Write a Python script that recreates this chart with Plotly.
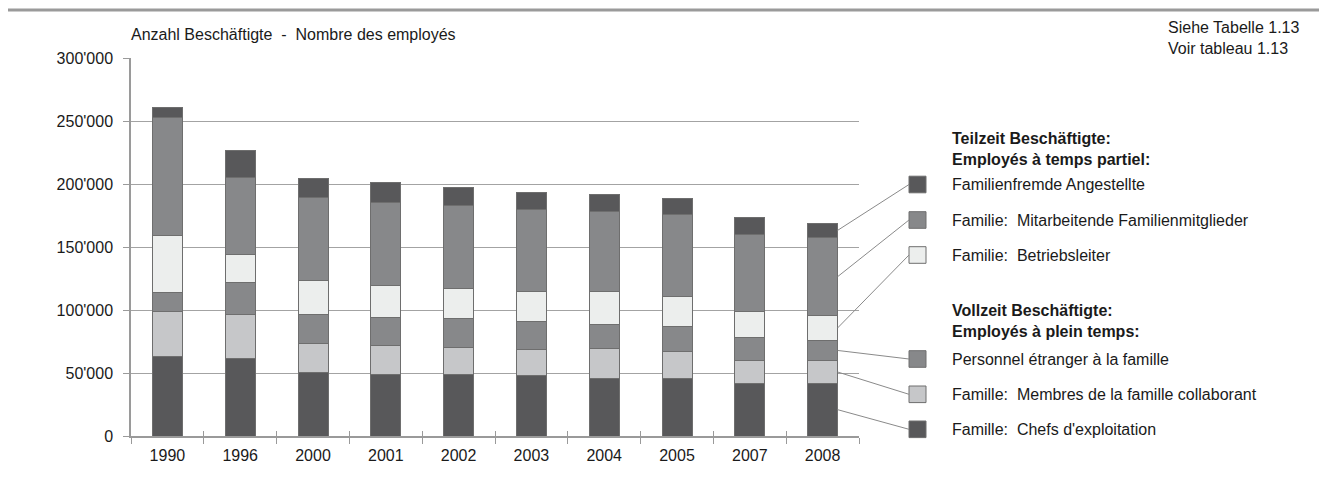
import plotly.graph_objects as go

years = ["1990", "1996", "2000", "2001", "2002", "2003", "2004", "2005", "2007", "2008"]

# Full-time (bottom of stack)
chefs = [63000, 61700, 50200, 49200, 49200, 47900, 45500, 45500, 41800, 41800]
membres = [36200, 35100, 23100, 22800, 21400, 20900, 24100, 21700, 18000, 18000]
personnel = [14800, 25400, 23500, 22200, 22300, 21900, 18500, 19500, 18500, 16200]
# Part-time (top of stack)
betriebsleiter = [45000, 22200, 26500, 25600, 24300, 24100, 26700, 24400, 20400, 19500]
mitarbeitende = [93600, 60600, 65800, 65400, 65600, 64600, 63200, 64500, 61100, 61900]
familienfremde = [8300, 21400, 15400, 15800, 14600, 14000, 13300, 13000, 14000, 11600]

y_tickvals = [0, 50000, 100000, 150000, 200000, 250000, 300000]
y_ticktext = ["0", "50'000", "100'000", "150'000", "200'000", "250'000", "300'000"]

DARK = "#58585a"
MID = "#87888a"
LIGHT = "#c6c7c9"
WHITE = "#eceeed"
EDGE = "#6e6e6e"
FONT = "Liberation Sans, Arial, sans-serif"
TXT = "#1a1a1a"
FS = 16

series = [
    ("Famille: Chefs d'exploitation", chefs, DARK),
    ("Famille: Membres de la famille collaborant", membres, LIGHT),
    ("Personnel étranger à la famille", personnel, MID),
    ("Familie: Betriebsleiter", betriebsleiter, WHITE),
    ("Familie: Mitarbeitende Familienmitglieder", mitarbeitende, MID),
    ("Familienfremde Angestellte", familienfremde, DARK),
]

fig = go.Figure()
for name, vals, col in series:
    fig.add_trace(go.Bar(
        x=years, y=vals, name=name,
        marker=dict(color=col, line=dict(color=EDGE, width=1)),
        showlegend=False,
    ))

# page offset of the figure div (body margin)
OX, OY = 8, 8
PAGE_W, PAGE_H = 1327, 481
W, H = PAGE_W - OX, PAGE_H - OY
L, R, T, B = 131 - OX, 468, 58 - OY, 45
pw, ph = W - L - R, H - T - B
X0 = L + OX          # page x of plot left edge
Y0 = PAGE_H - B      # page y of plot bottom edge


def px(x):
    return (x - X0) / pw


def py(y):
    return (Y0 - y) / ph


shapes = []
annotations = []

# top rule
shapes.append(dict(type="line", xref="paper", yref="paper",
                   x0=px(OX), x1=px(PAGE_W), y0=py(10), y1=py(10),
                   line=dict(color="#9a9a9a", width=3)))

legend_items = [
    ("Familienfremde Angestellte", DARK, 184.5),
    ("Familie:  Mitarbeitende Familienmitglieder", MID, 220),
    ("Familie:  Betriebsleiter", WHITE, 255),
    ("Personnel étranger à la famille", MID, 359),
    ("Famille:  Membres de la famille collaborant", LIGHT, 394.3),
    ("Famille:  Chefs d'exploitation", DARK, 429.3),
]
last = [s[1][-1] for s in series]
cum = []
acc = 0
for v in last:
    cum.append(acc + v / 2)
    acc += v
mids_top_down = list(reversed(cum))

ymax = 300000
bar_right = (len(years) - 1 + 0.5 + 0.206) / len(years)
sq = 8.3
for (label, col, cy), mid in zip(legend_items, mids_top_down):
    shapes.append(dict(type="rect", xref="paper", yref="paper",
                       x0=px(909), x1=px(926), y0=py(cy + sq), y1=py(cy - sq),
                       fillcolor=col, line=dict(color=EDGE, width=1)))
    shapes.append(dict(type="line", xref="paper", yref="paper",
                       x0=bar_right, x1=px(909), y0=mid / ymax, y1=py(cy),
                       line=dict(color="#8a8a8a", width=1)))
    annotations.append(dict(xref="paper", yref="paper", x=px(950), y=py(cy),
                            text=label, showarrow=False, xanchor="left", yanchor="middle",
                            font=dict(family=FONT, size=FS, color=TXT)))

annotations.append(dict(xref="paper", yref="paper", x=px(950), y=py(149.3),
                        text="<b>Teilzeit Beschäftigte:</b><br><b>Employés à temps partiel:</b>",
                        showarrow=False, xanchor="left", yanchor="middle", align="left",
                        font=dict(family=FONT, size=FS, color=TXT)))
annotations.append(dict(xref="paper", yref="paper", x=px(950), y=py(320.5),
                        text="<b>Vollzeit Beschäftigte:</b><br><b>Employés à plein temps:</b>",
                        showarrow=False, xanchor="left", yanchor="middle", align="left",
                        font=dict(family=FONT, size=FS, color=TXT)))

annotations.append(dict(xref="paper", yref="paper", x=px(129), y=py(35),
                        text="Anzahl Beschäftigte  -  Nombre des employés",
                        showarrow=False, xanchor="left", yanchor="middle",
                        font=dict(family=FONT, size=FS, color=TXT)))
annotations.append(dict(xref="paper", yref="paper", x=px(1166), y=py(38.5),
                        text="Siehe Tabelle 1.13<br>Voir tableau 1.13",
                        showarrow=False, xanchor="left", yanchor="middle", align="left",
                        font=dict(family=FONT, size=FS, color=TXT)))

fig.update_layout(
    barmode="stack",
    bargap=0.588,
    width=W, height=H,
    margin=dict(l=L, r=R, t=T, b=B, pad=0),
    paper_bgcolor="white", plot_bgcolor="white",
    shapes=shapes, annotations=annotations,
    font=dict(family=FONT, size=FS, color=TXT),
    xaxis2=dict(type="category", overlaying="x", matches="x", side="bottom",
                anchor="y", showline=False, showgrid=False,
                ticks="inside", tickson="boundaries", ticklen=5,
                tickcolor="#9a9a9a", tickwidth=1.3, showticklabels=False),
)
# invisible trace to carry the overlay axis with inside ticks
fig.add_trace(go.Bar(x=years, y=[0] * len(years), xaxis="x2", showlegend=False,
                     hoverinfo="skip", marker=dict(color="rgba(0,0,0,0)")))
fig.update_xaxes(
    selector=dict(anchor="y"),
)
fig.update_layout(xaxis=dict(
    type="category", showline=True, linecolor="#9a9a9a", linewidth=1.5,
    ticks="outside", tickson="boundaries", ticklen=6, tickcolor="#9a9a9a", tickwidth=1.3,
    showgrid=False, tickfont=dict(family=FONT, size=FS, color=TXT), ticklabelstandoff=4,
))
fig.update_yaxes(
    range=[0, ymax], tickvals=y_tickvals, ticktext=y_ticktext,
    showline=True, linecolor="#9a9a9a", linewidth=1.5,
    ticks="outside", ticklen=6, tickcolor="#9a9a9a", tickwidth=1.3,
    showgrid=True, gridcolor="#a3a3a3", gridwidth=1.3, zeroline=False,
    tickfont=dict(family=FONT, size=FS, color=TXT), ticklabelstandoff=7,
)

fig.write_html("out.html")
